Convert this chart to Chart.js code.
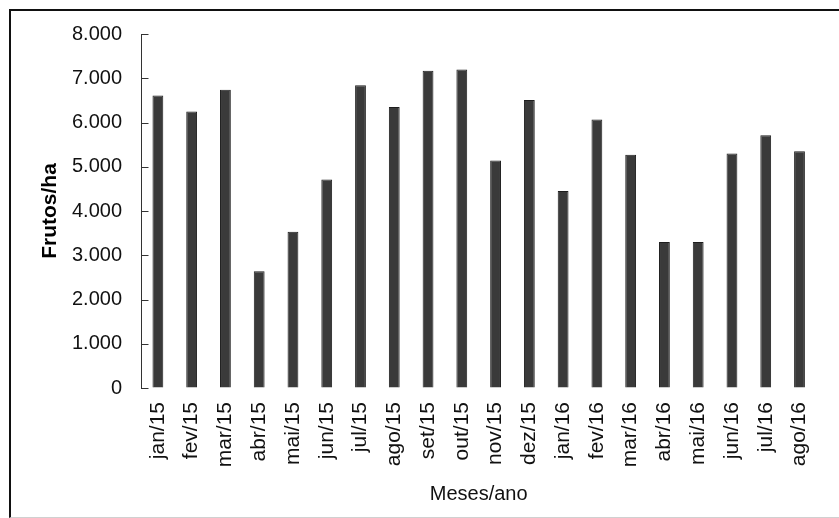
<!DOCTYPE html>
<html>
<head>
<meta charset="utf-8">
<script src="https://cdn.jsdelivr.net/npm/chart.js@4/dist/chart.umd.min.js"></script>
<style>
  body { margin: 0; background: #fff; }
  #frame {
    position: absolute; left: 9px; top: 9px; width: 830px; height: 506px;
    border-left: 2px solid #111; border-top: 2px solid #111; border-bottom: 1px solid #d0d0d0;
  }
  #wrap { position: absolute; left: 0; top: 0; width: 839px; height: 518px; }
</style>
</head>
<body>
<div id="frame"></div>
<div id="wrap"><canvas id="chart"></canvas></div>
<script>
// dados
const meses = ["jan/15", "fev/15", "mar/15", "abr/15", "mai/15", "jun/15", "jul/15", "ago/15",
  "set/15", "out/15", "nov/15", "dez/15", "jan/16", "fev/16", "mar/16", "abr/16",
  "mai/16", "jun/16", "jul/16", "ago/16"];
const frutos = [6610, 6250, 6740, 2640, 3530, 4710, 6840, 6350,
  7170, 7200, 5140, 6510, 4450, 6070, 5270, 3300,
  3300, 5300, 5710, 5350];
const yMax = 8000;
const yPasso = 1000;

const fmt = v => String(v).replace(/\B(?=(\d{3})+(?!\d))/g, ".");

// marcas do eixo y para dentro
const ticksDentro = {
  id: "ticksDentro",
  afterDraw(chart) {
    const y = chart.scales.y;
    const ctx = chart.ctx;
    const x0 = Math.round(chart.chartArea.left) + 0.5;
    ctx.save();
    ctx.strokeStyle = "#333";
    ctx.lineWidth = 1;
    y.ticks.forEach(t => {
      const py = Math.round(y.getPixelForValue(t.value)) + 0.5;
      ctx.beginPath();
      ctx.moveTo(x0, py);
      ctx.lineTo(x0 + 7, py);
      ctx.stroke();
    });
    ctx.restore();
  }
};

new Chart(document.getElementById("chart"), {
  type: "bar",
  data: {
    labels: meses,
    datasets: [{
      data: frutos,
      backgroundColor: "#3a3a3a",
      borderColor: "#1e1e1e",
      borderWidth: 1,
      barPercentage: 0.32,
      categoryPercentage: 1
    }]
  },
  options: {
    responsive: true,
    maintainAspectRatio: false,
    animation: false,
    layout: { padding: { left: 30, right: 12, top: 34, bottom: 12 } },
    plugins: { legend: { display: false }, tooltip: { enabled: false } },
    scales: {
      x: {
        grid: { display: false, drawTicks: false },
        border: { display: false },
        ticks: {
          autoSkip: false, maxRotation: 90, minRotation: 90, padding: 14,
          color: "#111", font: { family: "Liberation Sans", size: 21 }
        },
        title: {
          display: true, text: "Meses/ano", color: "#111",
          font: { family: "Liberation Sans", size: 20 }, padding: 0
        },
        afterFit: s => { s.height = 118; }
      },
      y: {
        min: 0, max: yMax,
        grid: { drawOnChartArea: false, drawTicks: false },
        border: { display: true, color: "#333", width: 1 },
        ticks: {
          stepSize: yPasso, padding: 19, color: "#111",
          font: { family: "Liberation Sans", size: 20 },
          callback: v => fmt(v)
        },
        title: {
          display: true, text: "Frutos/ha", color: "#000",
          font: { family: "Liberation Sans", size: 21, weight: "bold" },
          padding: { top: 8, bottom: 0 }
        },
        afterFit: s => { s.width = 111; }
      }
    }
  },
  plugins: [ticksDentro]
});
</script>
</body>
</html>
